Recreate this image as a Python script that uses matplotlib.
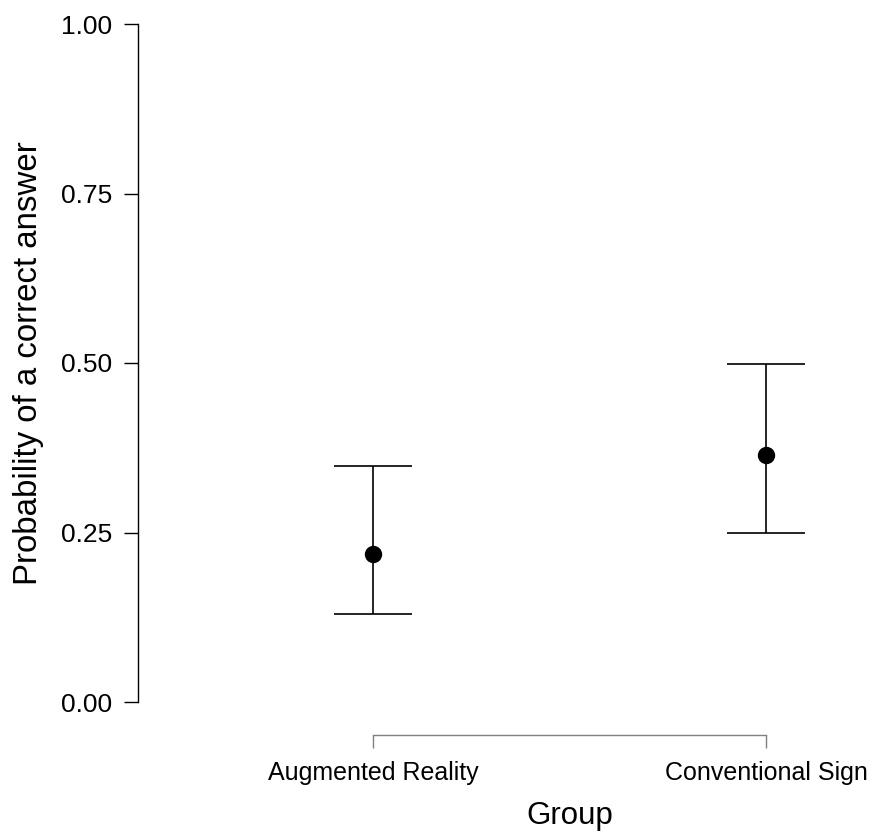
import matplotlib
matplotlib.use("Agg")
import matplotlib.pyplot as plt

plt.rcParams['font.family'] = ['Liberation Sans', 'DejaVu Sans']

groups = ["Augmented Reality", "Conventional Sign"]
prob = [0.218, 0.364]
ci_low = [0.130, 0.249]
ci_high = [0.348, 0.498]
y_ticks = [0.0, 0.25, 0.5, 0.75, 1.0]
y_labels = ["0.00", "0.25", "0.50", "0.75", "1.00"]

fig = plt.figure(figsize=(8.79, 8.36), dpi=100)
ax = fig.add_axes([138 / 879, (836 - 735) / 836, (870 - 138) / 879, (735 - 24) / 836])

xpos = list(range(len(groups)))
err = [[p - lo for p, lo in zip(prob, ci_low)], [hi - p for p, hi in zip(prob, ci_high)]]
ax.errorbar(xpos, prob, yerr=err, fmt='o', color='black', markersize=11.5,
            elinewidth=1.2, capsize=28, capthick=1.2, ecolor='black')

xlo, xhi = -0.598, 1 + (870 - 766) / 393
ylo = -(735 - 702) / 678
ax.set_xlim(xlo, xhi)
ax.set_ylim(ylo, 1.0)

ax.set_yticks(y_ticks)
ax.set_yticklabels(y_labels)
ax.set_xticks(xpos)
ax.set_xticklabels(groups)

for s in ['top', 'right']:
    ax.spines[s].set_visible(False)
ax.spines['left'].set_bounds(0, 1)
ax.spines['bottom'].set_bounds(0, 1)
ax.spines['left'].set_linewidth(1.0)
ax.spines['bottom'].set_linewidth(1.0)
ax.spines['bottom'].set_color('#808080')

ax.tick_params(axis='y', length=10, width=1.0, labelsize=19, pad=8.5)
ax.tick_params(axis='x', length=9.5, width=1.0, color='#808080', labelsize=18, pad=9)

ax.set_ylabel("Probability of a correct answer", fontsize=23.8, labelpad=12)
ax.set_xlabel("Group", fontsize=22.5, labelpad=12)
# centre the axis titles on the spine ranges rather than the whole axes
ax.yaxis.label.set_y((0.5 - ylo) / (1.0 - ylo))
ax.xaxis.label.set_x((0.5 - xlo) / (xhi - xlo))

fig.savefig("out.png", dpi=100)
